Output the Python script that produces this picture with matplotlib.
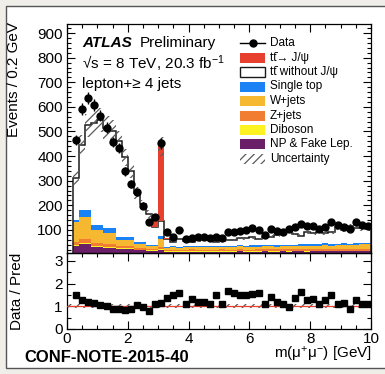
import numpy as np
import matplotlib
matplotlib.use('Agg')
import matplotlib.pyplot as plt
from matplotlib.patches import Rectangle
from matplotlib.lines import Line2D
from matplotlib.ticker import MultipleLocator

plt.rcParams['font.family'] = ['Liberation Sans', 'DejaVu Sans']
plt.rcParams['mathtext.fontset'] = 'custom'
plt.rcParams['mathtext.rm'] = 'Liberation Sans'
plt.rcParams['mathtext.it'] = 'Liberation Sans:italic'
plt.rcParams['mathtext.bf'] = 'Liberation Sans:bold'
plt.rcParams['hatch.linewidth'] = 0.9

# ---------------- data (50 bins of 0.2 GeV, 0-10 GeV) ----------------
x_min, x_max, n_bins = 0.0, 10.0, 50
nan = np.nan

data = [nan, 466, 591, 635, 608, 565, 515, 457, 432, 338,
        287, 252, 198, 134, 152, 452, 93, 73, 100, 62,
        66, 70, 70, 66, 70, 66, 93, 93, 97, 100,
        109, 100, 80, 103, 97, 93, 103, 113, 124, 116,
        116, 103, 111, 134, 120, 113, 103, 134, 120, 116]

ratio = [nan, 1.51, 1.29, 1.19, 1.16, 1.04, 1.00, 0.90, 0.90, 0.83,
         0.87, 1.04, 0.96, 0.80, 1.10, 1.13, 1.38, 1.51, 1.58, 1.10,
         1.33, 1.19, 1.19, 1.09, 1.48, 1.09, 1.67, 1.58, 1.48, 1.52,
         1.55, 1.58, 1.10, 1.43, 1.19, 1.09, 0.97, 1.38, 1.62, 1.26,
         1.33, 1.12, 1.26, 1.48, 1.09, 1.14, 0.90, 1.26, 1.12, 1.12]

np_fake = [0, 35, 43, 43, 32, 32, 28, 28, 22, 22,
           22, 18, 18, 15, 15, 20, 11, 12, 11, 12,
           12, 11, 12, 12, 11, 12, 12, 12, 13, 12,
           12, 12, 13, 12, 12, 13, 12, 13, 13, 12,
           13, 13, 14, 13, 13, 14, 13, 14, 14, 14]

diboson = [0, 3, 3, 3, 3, 3, 3, 3, 3, 3,
           3, 2, 2, 2, 2, 3, 2, 2, 2, 2,
           2, 2, 2, 2, 2, 2, 2, 2, 2, 2,
           2, 2, 2, 2, 2, 2, 2, 2, 2, 2,
           2, 2, 2, 2, 2, 2, 2, 2, 2, 2]

zjets = [0, 12, 15, 15, 12, 12, 10, 10, 8, 8,
         8, 6, 6, 5, 5, 8, 6, 6, 5, 6,
         7, 6, 6, 5, 6, 7, 6, 6, 7, 6,
         6, 7, 6, 7, 7, 6, 7, 6, 7, 7,
         6, 7, 8, 7, 7, 8, 7, 7, 8, 8]

wjets = [0, 80, 93, 93, 53, 53, 46, 46, 26, 26,
         26, 18, 18, 11, 11, 32, 9, 9, 10, 9,
         10, 10, 9, 10, 11, 10, 10, 11, 11, 10,
         12, 11, 12, 12, 11, 13, 12, 13, 13, 14,
         13, 14, 15, 14, 15, 16, 15, 16, 17, 17]

single_top = [0, 10, 27, 27, 20, 20, 20, 20, 14, 14,
              14, 8, 8, 6, 6, 13, 4, 5, 4, 5,
              5, 4, 5, 5, 5, 4, 5, 5, 5, 6,
              5, 5, 6, 5, 6, 6, 5, 6, 6, 6,
              7, 6, 6, 7, 6, 7, 7, 6, 7, 7]

tt_no_jpsi = [0, 172, 264, 344, 415, 425, 408, 393, 387, 322,
              267, 198, 153, 126, 71, 59, 32, 18, 30, 21,
              16, 24, 24, 26, 15, 25, 22, 24, 27, 30,
              33, 27, 33, 34, 42, 45, 62, 42, 36, 51,
              46, 50, 43, 47, 67, 52, 70, 61, 59, 56]

tt_jpsi = [0, 0, 0, 0, 0, 0, 0, 0, 0, 0,
           0, 0, 0, 0, 30, 305, 4, 0, 0, 0,
           0, 0, 0, 0, 0, 0, 0, 0, 0, 0,
           0, 0, 0, 0, 0, 0, 0, 0, 0, 0,
           0, 0, 0, 0, 0, 0, 0, 0, 0, 0]

unc_rel = 0.09  # relative systematic band

labels = ['Data', 'tt\u0304\u2192 J/ψ', 'tt\u0304 without J/ψ',
          'Single top', 'W+jets', 'Z+jets', 'Diboson', 'NP & Fake Lep.', 'Uncertainty']

col_jpsi = '#e8402f'
col_st = '#1b82f5'
col_w = '#f6b831'
col_z = '#f07d32'
col_db = '#fdf322'
col_np = '#6b1f68'
col_unc = '#5a5a5a'

# ---------------- figure ----------------
W, H = 385, 374
fig = plt.figure(figsize=(W / 100, H / 100), dpi=100, facecolor='#efeee9')
fig.patches.append(Rectangle((6 / W, 1 - 368 / H), 1, (368 - 6) / H,
                             transform=fig.transFigure, facecolor='white',
                             edgecolor='#555555', lw=1.0, zorder=-5))

L, R = 67 / W, 371 / W
ax = fig.add_axes([L, 1 - 253 / H, R - L, (253 - 24) / H])
rax = fig.add_axes([L, 1 - 329 / H, R - L, (329 - 253) / H])
ax.set_facecolor('none')
rax.set_facecolor('none')

edges = np.linspace(x_min, x_max, n_bins + 1)
centers = 0.5 * (edges[1:] + edges[:-1])
half_w = 0.5 * (edges[1] - edges[0])

comps = [(np_fake, col_np), (diboson, col_db), (zjets, col_z), (wjets, col_w),
         (single_top, col_st), (tt_no_jpsi, 'white')]
cum = np.zeros(n_bins)
for vals, c in comps:
    v = np.asarray(vals, float)
    ax.stairs(cum + v, edges, baseline=cum, fill=True, color=c, lw=0, zorder=2)
    cum = cum + v
# outline of ttbar without J/psi
ax.stairs(cum, edges, baseline=0, fill=False, color='#1a1a1a', lw=1.1, zorder=3)
jp = np.asarray(tt_jpsi, float)
ax.stairs(cum + jp, edges, baseline=cum, fill=True, color=col_jpsi, lw=0, zorder=3.5)
total = cum + jp
ax.stairs(total * (1 + unc_rel), edges, baseline=total * (1 - unc_rel), fill=True,
          facecolor='none', edgecolor=col_unc, hatch='////', lw=0, zorder=4)

d = np.asarray(data, float)
ax.errorbar(centers, d, yerr=np.sqrt(d), xerr=half_w, fmt='o', color='black',
            ms=5, lw=1, capsize=0, zorder=5)

ax.set_xlim(x_min, x_max)
ax.set_ylim(6, 937)
ax.yaxis.set_major_locator(MultipleLocator(100))
ax.yaxis.set_minor_locator(MultipleLocator(20))
ax.xaxis.set_major_locator(MultipleLocator(2))
ax.xaxis.set_minor_locator(MultipleLocator(0.5))
ax.set_yticks([100, 200, 300, 400, 500, 600, 700, 800, 900])

# ratio panel
rax.stairs(np.full(n_bins, 1 + unc_rel), edges, baseline=np.full(n_bins, 1 - unc_rel),
           fill=True, facecolor='none', edgecolor=col_unc, hatch='////', lw=0, zorder=2)
rax.axhline(1.0, color=col_jpsi, lw=0.9, zorder=3)
rax.plot(centers, ratio, 's', color='black', ms=4.8, zorder=4)
rax.set_xlim(x_min, x_max)
rax.set_ylim(0, 3.35)
rax.yaxis.set_major_locator(MultipleLocator(1))
rax.yaxis.set_minor_locator(MultipleLocator(0.5))
rax.xaxis.set_major_locator(MultipleLocator(2))
rax.xaxis.set_minor_locator(MultipleLocator(0.5))

for a in (ax, rax):
    a.tick_params(which='both', direction='in', top=True, right=True,
                  labelsize=11, width=0.8, pad=3)
    a.tick_params(which='major', length=6)
    a.tick_params(which='minor', length=3)
    for s in a.spines.values():
        s.set_linewidth(0.9)
ax.tick_params(labelbottom=False)
rax.tick_params(axis='x', pad=2)

# texts
fs = 11
fig.text(82 / W, 1 - 43 / H, 'ATLAS', fontsize=fs, fontweight='bold', fontstyle='italic',
         va='center', ha='left')
fig.text(140 / W, 1 - 43 / H, 'Preliminary', fontsize=fs, va='center', ha='left')
fig.text(82 / W, 1 - 64 / H, '√s = 8 TeV, 20.3 fb$^{-1}$', fontsize=fs,
         va='center', ha='left')
fig.text(82 / W, 1 - 84 / H, 'lepton+≥ 4 jets', fontsize=fs, va='center', ha='left')
fig.text(14 / W, 1 - 22 / H, 'Events / 0.2 GeV', fontsize=fs, rotation=90,
         va='top', ha='center')
fig.text(17 / W, 1 - 291 / H, 'Data / Pred', fontsize=fs, rotation=90,
         va='center', ha='center')
fig.text(372 / W, 1 - 354 / H, 'm(μ$^{+}$μ$^{-}$) [GeV]', fontsize=fs,
         va='center', ha='right')
fig.text(24 / W, 1 - 358 / H, 'CONF-NOTE-2015-40', fontsize=12, fontweight='bold',
         va='center', ha='left')

# legend (drawn row by row for ROOT-like fixed spacing)
row0, dy = 43, 14.5
hx0, hx1, tx = 240, 265, 270
box_h = 10
styles = [('data', None, None), ('box', col_jpsi, col_jpsi), ('box', 'white', '#1a1a1a'),
          ('box', col_st, col_st), ('box', col_w, col_w), ('box', col_z, col_z),
          ('box', col_db, col_db), ('box', col_np, col_np), ('hatch', 'none', col_unc)]
for i, (lab, (kind, fc, ec)) in enumerate(zip(labels, styles)):
    yc = row0 + i * dy
    if kind == 'data':
        fig.add_artist(Line2D([hx0 / W, hx1 / W], [1 - yc / H, 1 - yc / H],
                              color='black', lw=1, transform=fig.transFigure))
        fig.add_artist(Line2D([(hx0 + hx1) / 2 / W], [1 - yc / H], marker='o', ms=5,
                              color='black', transform=fig.transFigure))
    elif kind == 'box':
        fig.add_artist(Rectangle((hx0 / W, 1 - (yc + box_h / 2) / H), (hx1 - hx0) / W,
                                 box_h / H, transform=fig.transFigure, facecolor=fc,
                                 edgecolor=ec, lw=1 if fc == 'white' else 0))
    else:
        fig.add_artist(Rectangle((hx0 / W, 1 - (yc + box_h / 2) / H), (hx1 - hx0) / W,
                                 box_h / H, transform=fig.transFigure, facecolor='none',
                                 edgecolor=ec, hatch='////', lw=0))
    fig.text(tx / W, 1 - yc / H, lab, fontsize=8.5, va='center', ha='left')

fig.savefig('out.png', dpi=100, facecolor=fig.get_facecolor())
